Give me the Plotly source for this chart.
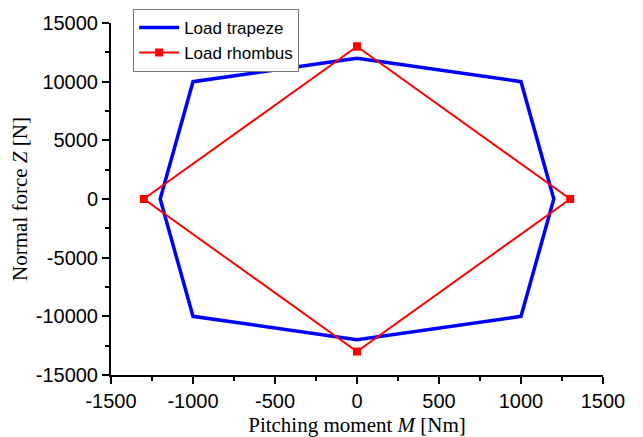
import plotly.graph_objects as go

# Load trapeze (blue octagon)
trap_M = [0, 1000, 1200, 1000, 0, -1000, -1200, -1000, 0]
trap_Z = [12000, 10000, 0, -10000, -12000, -10000, 0, 10000, 12000]

# Load rhombus (red)
rh_M = [0, 1300, 0, -1300, 0]
rh_Z = [13000, 0, -13000, 0, 13000]

x_ticks = [-1500, -1000, -500, 0, 500, 1000, 1500]
y_ticks = [-15000, -10000, -5000, 0, 5000, 10000, 15000]

fig = go.Figure()
fig.add_trace(go.Scatter(x=trap_M, y=trap_Z, mode="lines", name="Load trapeze",
                         line=dict(color="#0000ff", width=3.5)))
fig.add_trace(go.Scatter(x=rh_M, y=rh_Z, mode="lines+markers", name="Load rhombus",
                         line=dict(color="#ff0000", width=2),
                         marker=dict(symbol="square", size=8, color="#ff0000")))

axis_common = dict(showline=True, linecolor="black", linewidth=2, ticks="outside",
                   ticklen=7, tickwidth=2, tickcolor="black", showgrid=False, zeroline=False,
                   tickfont=dict(family="Liberation Sans, Arial", size=20, color="black"),
                   mirror=False)

fig.update_xaxes(range=[-1500, 1500], tickvals=x_ticks,
                 ticktext=[str(v) for v in x_ticks],
                 minor=dict(ticks="outside", ticklen=4, tickwidth=1.5, tickcolor="black", dtick=250, tick0=-1500),
                 title=dict(text="Pitching moment <i>M</i> [Nm]",
                            font=dict(family="Liberation Serif, Times New Roman", size=21, color="black"),
                            standoff=6),
                 **axis_common)
fig.update_yaxes(range=[-15000, 15000], tickvals=y_ticks,
                 ticktext=[str(v) for v in y_ticks],
                 minor=dict(ticks="outside", ticklen=4, tickwidth=1.5, tickcolor="black", dtick=2500, tick0=-15000),
                 title=dict(text="Normal force <i>Z</i> [N]",
                            font=dict(family="Liberation Serif, Times New Roman", size=21, color="black"),
                            standoff=8),
                 **axis_common)

# page body has an 8px default margin, so the figure is 8px smaller than the window
fig.update_layout(
    width=635, height=429,
    margin=dict(l=103, r=40, t=15, b=62, autoexpand=False),
    plot_bgcolor="white", paper_bgcolor="white",
    legend=dict(x=0.045, y=1.04, xanchor="left", yanchor="top",
                bordercolor="#777777", borderwidth=1, bgcolor="white",
                font=dict(family="Liberation Sans, Arial", size=17, color="black"),
                tracegroupgap=0, itemwidth=40),
    showlegend=True,
)

fig.write_html("out.html")
